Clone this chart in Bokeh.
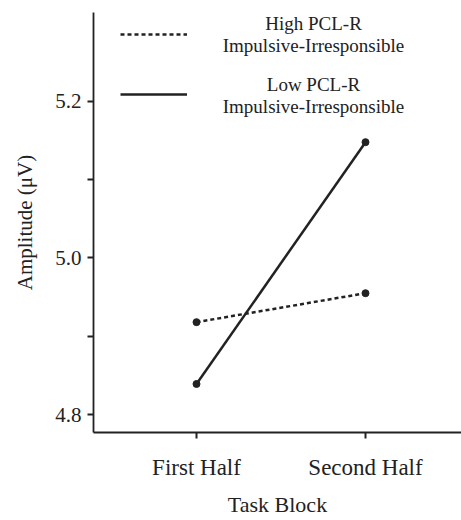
from bokeh.plotting import figure
from bokeh.models import Range1d, FixedTicker, Legend, LegendItem, ColumnDataSource, Label
from bokeh.embed import file_html
from bokeh.resources import INLINE

# ---- data ----
blocks = ["First Half", "Second Half"]
block_pos = [1, 2]
high_pclr = [4.918, 4.955]
low_pclr = [4.839, 5.148]
y_ticks = [4.8, 4.9, 5.0, 5.1, 5.2]
y_tick_labels = {4.8: "4.8", 4.9: "", 5.0: "5.0", 5.1: "", 5.2: "5.2"}
legend_lines = [["High PCL-R", "Impulsive-Irresponsible"],
                ["Low PCL-R", "Impulsive-Irresponsible"]]

FONT = "Liberation Serif, Times New Roman, serif"
INK = "#222222"

p = figure(width=461, height=520, output_backend="svg", toolbar_location=None,
           x_range=Range1d(0.3905, 2.568), y_range=Range1d(4.777, 5.3137),
           min_border_left=93, min_border_right=0, min_border_top=12, min_border_bottom=88)
p.outline_line_color = None
p.grid.grid_line_color = None
p.background_fill_color = "white"

src_hi = ColumnDataSource(dict(x=block_pos, y=high_pclr))
src_lo = ColumnDataSource(dict(x=block_pos, y=low_pclr))

r_hi = p.line("x", "y", source=src_hi, line_color=INK, line_width=2.5, line_dash="4 3")
p.scatter("x", "y", source=src_hi, size=7, color=INK)
r_lo = p.line("x", "y", source=src_lo, line_color=INK, line_width=2.5)
p.scatter("x", "y", source=src_lo, size=7, color=INK)

# axes
p.xaxis.ticker = FixedTicker(ticks=block_pos)
p.xaxis.major_label_overrides = {bp: b for bp, b in zip(block_pos, blocks)}
p.yaxis.ticker = FixedTicker(ticks=y_ticks)
p.yaxis.major_label_overrides = {t: l for t, l in y_tick_labels.items()}
for ax in (p.xaxis, p.yaxis):
    ax.axis_line_color = INK
    ax.axis_line_width = 1.8
    ax.major_tick_line_color = INK
    ax.major_tick_line_width = 2
    ax.major_tick_out = 6
    ax.major_tick_in = 0
    ax.minor_tick_line_color = None
    ax.major_label_text_font = FONT
    ax.major_label_text_color = INK
    ax.axis_label_text_font = FONT
    ax.axis_label_text_font_style = "normal"
    ax.axis_label_text_color = INK
p.yaxis.major_label_text_font_size = "21px"
p.yaxis.axis_label_text_font_size = "21px"
p.xaxis.major_label_text_font_size = "23px"
p.xaxis.axis_label_text_font_size = "22px"
p.xaxis.axis_label = "Task Block"
p.yaxis.axis_label = "Amplitude (μV)"
p.xaxis.major_label_standoff = 16
p.xaxis.axis_label_standoff = 9
p.yaxis.major_label_standoff = 6
p.yaxis.axis_label_standoff = 15

# legend: glyph samples only, texts as centered labels
legend = Legend(items=[LegendItem(label="", renderers=[r_hi]),
                       LegendItem(label="", renderers=[r_lo])],
                location=(27, 328), border_line_color=None, background_fill_alpha=0,
                padding=0, margin=0, spacing=40, glyph_width=67, glyph_height=20,
                label_standoff=0, label_width=0, label_height=20,
                label_text_font_size="1px")
p.add_layout(legend)

baselines = [[409, 387], [348, 326]]
for lines, ys in zip(legend_lines, baselines):
    for txt, yb in zip(lines, ys):
        p.add_layout(Label(x=220, y=yb, x_units="screen", y_units="screen", text=txt,
                           text_align="center", text_baseline="alphabetic",
                           text_font=FONT, text_font_size="19px", text_color=INK))

open("out.html", "w").write(file_html(p, INLINE))
